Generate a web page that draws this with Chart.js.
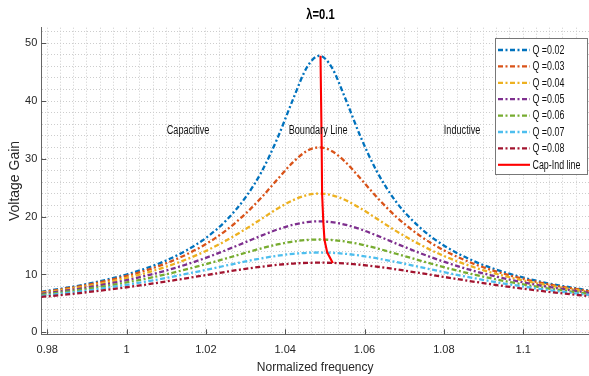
<!DOCTYPE html>
<html>
<head>
<meta charset="utf-8">
<script src="https://cdn.jsdelivr.net/npm/chart.js@4.4.0/dist/chart.umd.min.js"></script>
<style>
  html, body { margin: 0; padding: 0; background: #fff; }
  #wrap { width: 589px; height: 376px; position: relative; }
</style>
</head>
<body>
<div id="wrap"><canvas id="gainChart"></canvas></div>
<script>
// normalized frequency samples shared by all Q curves
const freq = [0.9785, 0.985, 0.99, 0.995, 1.0, 1.005, 1.01, 1.015, 1.02, 1.025, 1.03, 1.034, 1.038, 1.042,
    1.0455, 1.0486, 1.0517, 1.055, 1.059, 1.063, 1.068, 1.074, 1.08, 1.088, 1.096, 1.105, 1.1166];

const gainQ02 = [7.01, 7.71, 8.34, 9.10, 10.00, 11.08, 12.43, 14.13, 16.32, 19.27, 23.34, 27.72, 33.50, 40.36,
    45.87, 47.85, 45.87, 40.72, 33.83, 27.97, 22.55, 18.11, 15.02, 12.19, 10.24, 8.66, 7.22];
const gainQ03 = [6.92, 7.59, 8.19, 8.90, 9.74, 10.73, 11.94, 13.43, 15.26, 17.59, 20.52, 23.31, 26.43, 29.44,
    31.38, 31.99, 31.38, 29.58, 26.59, 23.45, 19.98, 16.69, 14.18, 11.73, 9.96, 8.49, 7.12];
const gainQ04 = [6.80, 7.43, 7.99, 8.65, 9.41, 10.29, 11.34, 12.59, 14.07, 15.83, 17.86, 19.61, 21.37, 22.86,
    23.74, 24.00, 23.74, 22.93, 21.45, 19.70, 17.50, 15.17, 13.21, 11.16, 9.61, 8.27, 6.99];
const gainQ05 = [6.65, 7.24, 7.75, 8.35, 9.02, 9.80, 10.69, 11.72, 12.88, 14.19, 15.59, 16.72, 17.77, 18.60,
    19.06, 19.20, 19.06, 18.64, 17.82, 16.77, 15.35, 13.70, 12.21, 10.54, 9.20, 8.01, 6.83];
const gainQ06 = [6.48, 7.02, 7.49, 8.03, 8.62, 9.29, 10.04, 10.88, 11.79, 12.76, 13.76, 14.52, 15.19, 15.70,
    15.97, 16.05, 15.97, 15.72, 15.22, 14.55, 13.59, 12.41, 11.27, 9.92, 8.78, 7.72, 6.65];
const gainQ07 = [6.30, 6.80, 7.22, 7.69, 8.22, 8.78, 9.41, 10.09, 10.80, 11.54, 12.26, 12.79, 13.24, 13.57,
    13.75, 13.80, 13.75, 13.59, 13.26, 12.81, 12.15, 11.28, 10.40, 9.31, 8.35, 7.43, 6.46];
const gainQ08 = [6.11, 6.55, 6.93, 7.34, 7.79, 8.27, 8.79, 9.34, 9.89, 10.45, 10.98, 11.35, 11.66, 11.89,
    12.01, 12.04, 12.01, 11.90, 11.68, 11.37, 10.89, 10.25, 9.58, 8.71, 7.91, 7.11, 6.24];

// capacitive / inductive boundary (zero phase point of each curve)
const capIndFreq = [1.0489, 1.0492, 1.0493, 1.0496, 1.0499, 1.0506, 1.0520];
const capIndGain = [47.85, 32.0, 24.0, 19.2, 16.0, 13.8, 12.0];

const seriesLabels = ['Q =0.02', 'Q =0.03', 'Q =0.04', 'Q =0.05', 'Q =0.06', 'Q =0.07', 'Q =0.08'];
const seriesGains = [gainQ02, gainQ03, gainQ04, gainQ05, gainQ06, gainQ07, gainQ08];
const seriesColors = ['#0072BD', '#D95319', '#EDB120', '#7E2F8E', '#77AC30', '#4DBEEE', '#A2142F'];
const boundaryLabel = 'Cap-Ind line';

const regionLabels = ['Capacitive', 'Boundary Line', 'Inductive'];
const regionFreq = [1.0155, 1.0483, 1.0846];
const regionGain = 34.9;

const xMajorTicks = [0.98, 1, 1.02, 1.04, 1.06, 1.08, 1.1];
const yMajorTicks = [0, 10, 20, 30, 40, 50];
const xMinorStep = 0.02 / 6;
const yMinorStep = 2;

const FONT = '"Liberation Sans", Arial, Helvetica, sans-serif';
const DASH_DOT = [5, 2.5, 2, 2.5];
const GRID = '#cdcdcd';

function onStep(v, step) {
    const r = v / step;
    return Math.abs(r - Math.round(r)) < 1e-6;
}

// the source figure was squeezed sideways, so its text is narrow
function narrowText(ctx, txt, x, y, sx) {
    ctx.save();
    ctx.translate(x, y);
    ctx.scale(sx, 1);
    ctx.fillText(txt, 0, 0);
    ctx.restore();
}

const datasets = seriesGains.map((gains, i) => ({
    label: seriesLabels[i],
    data: freq.map((f, j) => ({ x: f, y: gains[j] })),
    borderColor: seriesColors[i],
    borderWidth: 2.3,
    borderDash: DASH_DOT,
    borderCapStyle: 'butt',
    pointRadius: 0,
    cubicInterpolationMode: 'monotone',
    fill: false,
    order: seriesGains.length - i
}));
datasets.push({
    label: boundaryLabel,
    data: capIndFreq.map((f, j) => ({ x: f, y: capIndGain[j] })),
    borderColor: '#FF0000',
    borderWidth: 2.1,
    pointRadius: 0,
    tension: 0,
    fill: false,
    order: 0
});

// title, region notes, inward ticks and the boxed legend
const decorations = {
    id: 'decorations',
    afterDraw(chart) {
        const { ctx, chartArea: area, scales: { x, y } } = chart;
        ctx.save();

        // inward tick marks on major ticks
        ctx.strokeStyle = '#555';
        ctx.lineWidth = 1;
        ctx.setLineDash([]);
        ctx.beginPath();
        xMajorTicks.forEach((v) => {
            const px = Math.round(x.getPixelForValue(v)) + 0.5;
            ctx.moveTo(px, area.bottom);
            ctx.lineTo(px, area.bottom - 5);
        });
        yMajorTicks.forEach((v) => {
            const py = Math.round(y.getPixelForValue(v)) + 0.5;
            ctx.moveTo(area.left, py);
            ctx.lineTo(area.left + 5, py);
        });
        ctx.stroke();

        // title
        ctx.fillStyle = '#000';
        ctx.font = 'bold 14px ' + FONT;
        ctx.textAlign = 'center';
        ctx.textBaseline = 'middle';
        narrowText(ctx, 'λ=0.1', 320.5, 15.5, 0.8);

        // region notes
        ctx.font = '12px ' + FONT;
        ctx.fillStyle = '#111';
        regionLabels.forEach((txt, i) => {
            narrowText(ctx, txt, x.getPixelForValue(regionFreq[i]), y.getPixelForValue(regionGain), 0.76);
        });

        // legend box
        const lx = 495.5, ly = 38.5, lw = 92, lh = 136;
        ctx.fillStyle = '#fff';
        ctx.fillRect(lx, ly, lw, lh);
        ctx.strokeStyle = '#777';
        ctx.lineWidth = 1;
        ctx.strokeRect(lx, ly, lw, lh);
        ctx.font = '12px ' + FONT;
        ctx.textAlign = 'left';
        chart.data.datasets.forEach((ds, i) => {
            const rowY = 50 + i * 16.4;
            ctx.strokeStyle = ds.borderColor;
            ctx.lineWidth = ds.borderWidth;
            ctx.setLineDash(ds.borderDash || []);
            ctx.beginPath();
            ctx.moveTo(498, rowY);
            ctx.lineTo(530, rowY);
            ctx.stroke();
            ctx.setLineDash([]);
            ctx.fillStyle = '#111';
            narrowText(ctx, ds.label, 532.5, rowY + 0.5, 0.74);
        });
        ctx.restore();
    }
};

new Chart(document.getElementById('gainChart'), {
    type: 'line',
    data: { datasets },
    options: {
        responsive: true,
        maintainAspectRatio: false,
        animation: false,
        events: [],
        layout: { padding: { top: 27.7, right: 0, bottom: 0, left: 0 } },
        plugins: {
            legend: { display: false },
            tooltip: { enabled: false },
            title: { display: false }
        },
        scales: {
            x: {
                type: 'linear',
                min: 0.9785,
                max: 1.1166,
                afterFit: (scale) => { scale.height = 41.7; },
                ticks: {
                    stepSize: xMinorStep,
                    includeBounds: false,
                    autoSkip: false,
                    maxRotation: 0,
                    padding: 9,
                    color: '#262626',
                    font: { family: FONT, size: 11 },
                    callback: (v) => onStep(v, 0.02) ? String(Number(v.toFixed(2))) : ''
                },
                grid: {
                    drawTicks: false,
                    lineWidth: 1,
                    color: (c) => (c.tick && onStep(c.tick.value, xMinorStep)) ? GRID : 'rgba(0,0,0,0)'
                },
                border: { display: true, color: '#666', width: 1, dash: [1, 2] },
                title: {
                    display: true,
                    text: 'Normalized frequency',
                    color: '#262626',
                    font: { family: FONT, size: 12 },
                    padding: { top: 0, bottom: 1 }
                }
            },
            y: {
                type: 'linear',
                min: -0.35,
                max: 52.7,
                afterFit: (scale) => { scale.width = 41.3; },
                ticks: {
                    stepSize: yMinorStep,
                    includeBounds: false,
                    autoSkip: false,
                    padding: 4,
                    color: '#262626',
                    font: { family: FONT, size: 11 },
                    callback: (v) => onStep(v, 10) ? String(Math.round(v)) : ''
                },
                grid: {
                    drawTicks: false,
                    lineWidth: 1,
                    color: (c) => (c.tick && onStep(c.tick.value, yMinorStep)) ? GRID : 'rgba(0,0,0,0)'
                },
                border: { display: true, color: '#666', width: 1, dash: [1, 2] },
                title: {
                    display: true,
                    text: 'Voltage Gain',
                    color: '#262626',
                    font: { family: FONT, size: 14 },
                    padding: { top: 6.5, bottom: 0 }
                }
            }
        }
    },
    plugins: [decorations]
});
</script>
</body>
</html>
